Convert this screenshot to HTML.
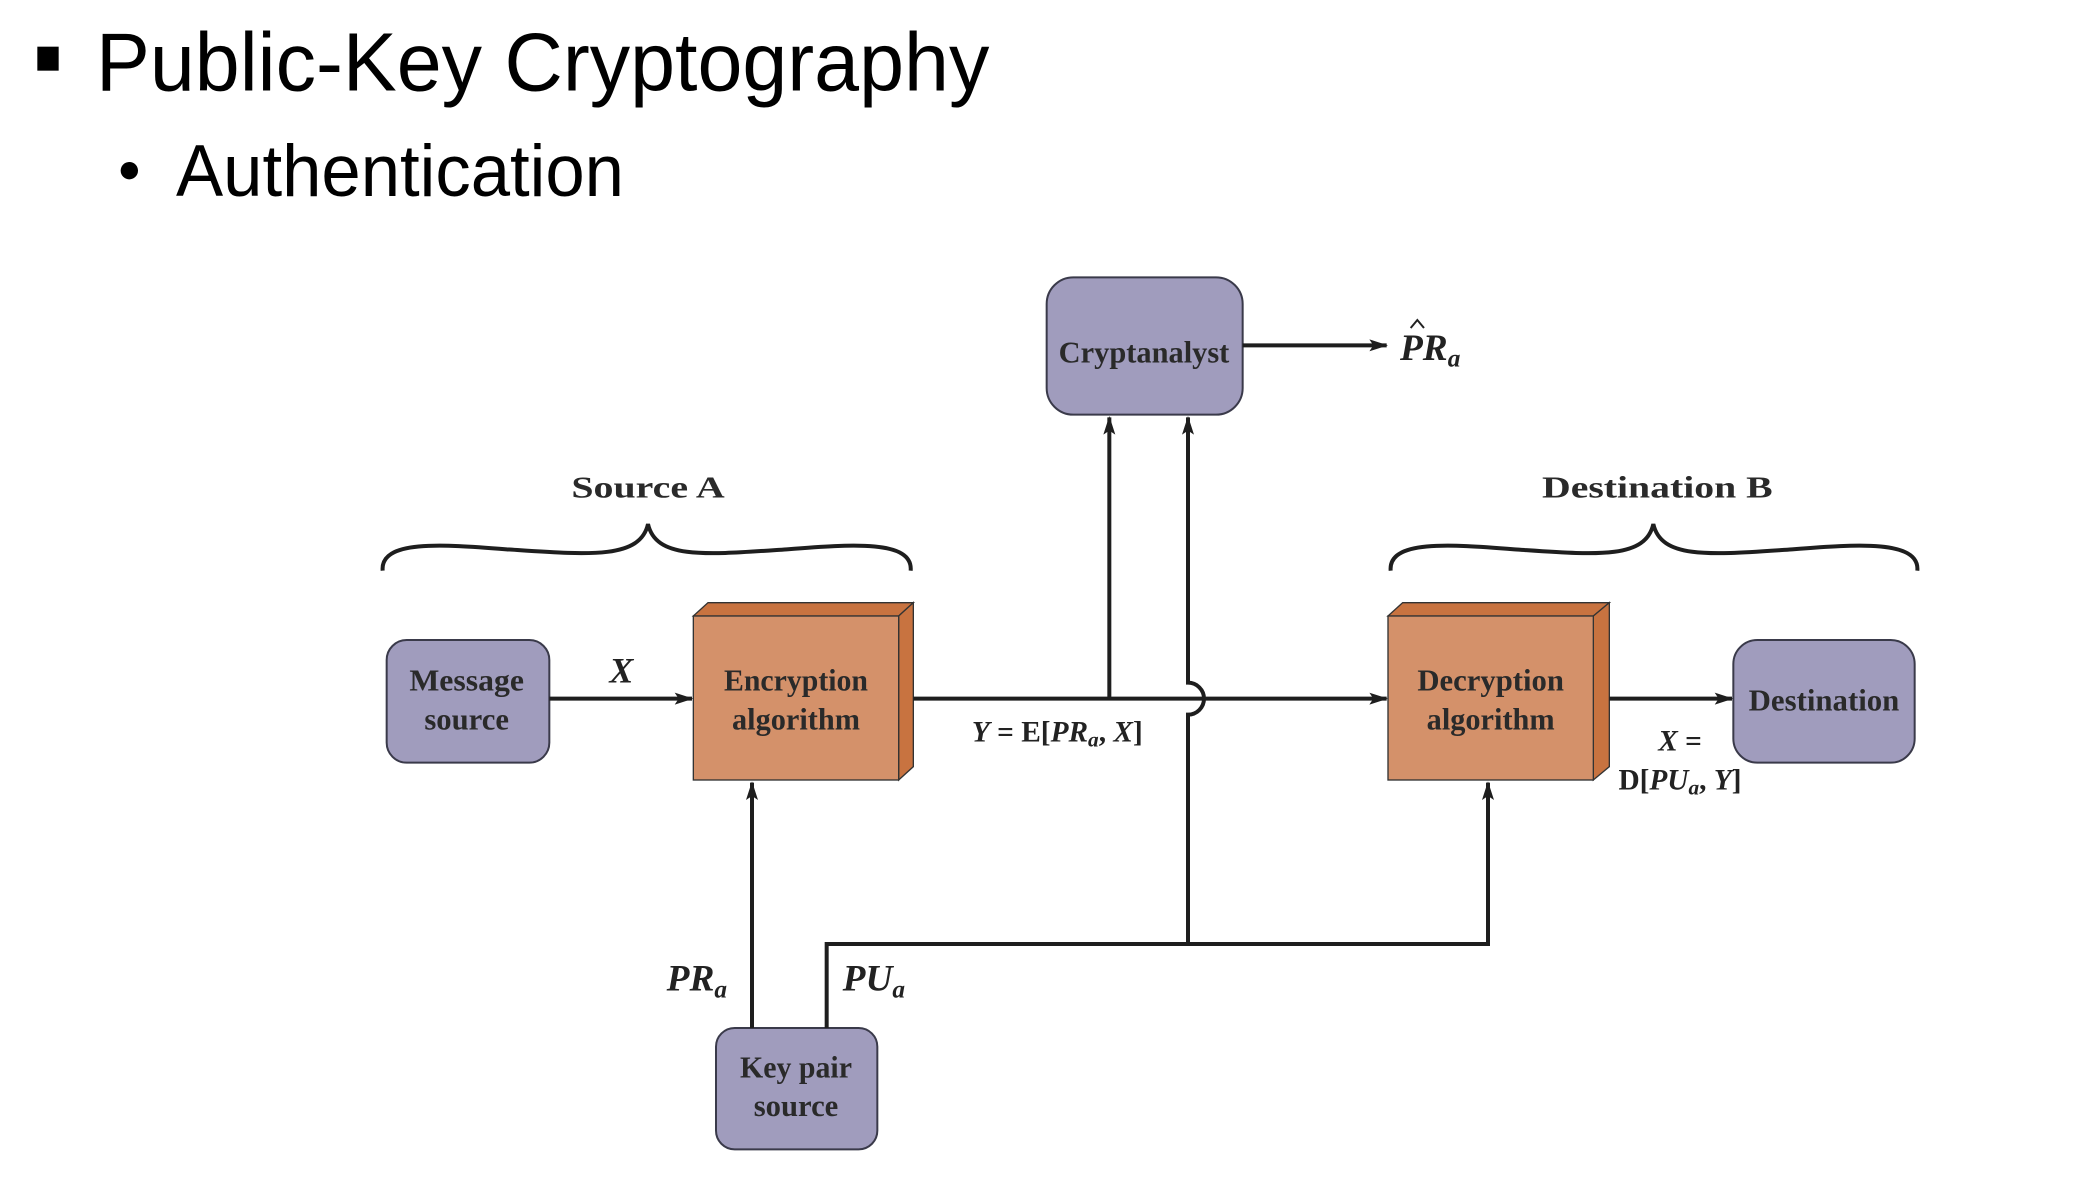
<!DOCTYPE html>
<html><head><meta charset="utf-8"><style>
html,body{margin:0;padding:0;background:#fff;}
svg{display:block}
.t{font-family:"Liberation Serif",serif;font-weight:bold;fill:#2a2a2a;font-size:23px;text-anchor:middle}
.i{font-family:"Liberation Serif",serif;font-style:italic;font-weight:bold;fill:#222;}
.l{stroke:#1e1e1e;stroke-width:3;fill:none}
</style></head><body>
<svg width="2090" height="1200" viewBox="0 0 1567.5 900" xmlns="http://www.w3.org/2000/svg">
<defs><marker id="a" markerWidth="14" markerHeight="9" refX="13" refY="4.5" orient="auto" markerUnits="userSpaceOnUse"><path d="M0,0 L14,4.5 L0,9 L3,4.5 z" fill="#1e1e1e"/></marker></defs>
<rect x="28" y="35" width="16" height="18" fill="#000"/>
<text x="72" y="68" font-family="Liberation Sans,sans-serif" font-size="62" textLength="670" lengthAdjust="spacingAndGlyphs" fill="#000">Public-Key Cryptography</text>
<circle cx="97" cy="128" r="6.5" fill="#000"/>
<text x="132" y="147" font-family="Liberation Sans,sans-serif" font-size="55" textLength="336" lengthAdjust="spacingAndGlyphs" fill="#000">Authentication</text>

<text class="t" x="486" y="373" font-size="26" textLength="115" lengthAdjust="spacingAndGlyphs">Source A</text>
<path class="l" stroke-width="2.5" d="M287,428 C285,405 330,408 380,412 C440,416 480,420 486,393 C492,420 530,416 590,412 C640,408 685,405 683,428"/>
<text class="t" x="1243" y="373" font-size="26" textLength="173" lengthAdjust="spacingAndGlyphs">Destination B</text>
<path class="l" stroke-width="2.5" d="M1043,428 C1041,405 1086,408 1136,412 C1196,416 1234,420 1240,393 C1246,420 1284,416 1344,412 C1394,408 1440,405 1438,428"/>

<rect x="290" y="480" width="122" height="92" rx="15" fill="#a09cbd" stroke="#3a3a4a" stroke-width="1.5"/>
<text class="t" x="350" y="518" textLength="86" lengthAdjust="spacingAndGlyphs">Message</text>
<text class="t" x="350" y="547">source</text>

<polygon points="520,462 531,452 685,452 674,462" fill="#c87340" stroke="#333" stroke-width="1"/>
<polygon points="674,462 685,452 685,575 674,585" fill="#c87340" stroke="#333" stroke-width="1"/>
<rect x="520" y="462" width="154" height="123" fill="#d4916a" stroke="#333" stroke-width="1"/>
<text class="t" x="597" y="518" textLength="108" lengthAdjust="spacingAndGlyphs">Encryption</text>
<text class="t" x="597" y="547" textLength="96" lengthAdjust="spacingAndGlyphs">algorithm</text>

<polygon points="1041,462 1052,452 1207,452 1195,462" fill="#c87340" stroke="#333" stroke-width="1"/>
<polygon points="1195,462 1207,452 1207,575 1195,585" fill="#c87340" stroke="#333" stroke-width="1"/>
<rect x="1041" y="462" width="154" height="123" fill="#d4916a" stroke="#333" stroke-width="1"/>
<text class="t" x="1118" y="518" textLength="110" lengthAdjust="spacingAndGlyphs">Decryption</text>
<text class="t" x="1118" y="547" textLength="96" lengthAdjust="spacingAndGlyphs">algorithm</text>

<rect x="785" y="208" width="147" height="103" rx="20" fill="#a09cbd" stroke="#3a3a4a" stroke-width="1.5"/>
<text class="t" x="858" y="272" textLength="128" lengthAdjust="spacingAndGlyphs">Cryptanalyst</text>

<rect x="1300" y="480" width="136" height="92" rx="18" fill="#a09cbd" stroke="#3a3a4a" stroke-width="1.5"/>
<text class="t" x="1368" y="533" textLength="113" lengthAdjust="spacingAndGlyphs">Destination</text>

<rect x="537" y="771" width="121" height="91" rx="14" fill="#a09cbd" stroke="#3a3a4a" stroke-width="1.5"/>
<text class="t" x="597" y="808" textLength="84" lengthAdjust="spacingAndGlyphs">Key pair</text>
<text class="t" x="597" y="837">source</text>

<line class="l" x1="412" y1="524" x2="519" y2="524" marker-end="url(#a)"/>
<text class="i" x="466" y="512" font-size="27" text-anchor="middle">X</text>
<line class="l" x1="685" y1="524" x2="1040" y2="524" marker-end="url(#a)"/>
<line class="l" x1="832" y1="524" x2="832" y2="313" marker-end="url(#a)"/>
<path class="l" d="M891,708 L891,536 A12,12 0 0 0 891,512 L891,313" marker-end="url(#a)"/>
<line class="l" x1="932" y1="259" x2="1040" y2="259" marker-end="url(#a)"/>
<text class="i" x="1050" y="270" font-size="28">PR<tspan font-size="19" dy="5">a</tspan></text>
<path d="M1058,246 L1063,240 L1068,246" stroke="#222" stroke-width="1.5" fill="none"/>
<line class="l" x1="1207" y1="524" x2="1299" y2="524" marker-end="url(#a)"/>

<text x="793" y="556" font-family="Liberation Serif,serif" font-weight="bold" font-size="22" fill="#222" text-anchor="middle"><tspan font-style="italic">Y</tspan> = E[<tspan font-style="italic">PR</tspan><tspan font-style="italic" font-size="16" dy="4">a</tspan><tspan dy="-4">, </tspan><tspan font-style="italic">X</tspan>]</text>
<text x="1260" y="563" font-family="Liberation Serif,serif" font-weight="bold" font-size="22" fill="#222" text-anchor="middle"><tspan font-style="italic">X</tspan> =</text>
<text x="1260" y="592" font-family="Liberation Serif,serif" font-weight="bold" font-size="22" fill="#222" text-anchor="middle">D[<tspan font-style="italic">PU</tspan><tspan font-style="italic" font-size="16" dy="4">a</tspan><tspan dy="-4">, </tspan><tspan font-style="italic">Y</tspan>]</text>

<line class="l" x1="564" y1="771" x2="564" y2="587" marker-end="url(#a)"/>
<path class="l" d="M620,771 L620,708 L1116,708 L1116,587" marker-end="url(#a)"/>
<text class="i" x="500" y="743" font-size="28">PR<tspan font-size="19" dy="5">a</tspan></text>
<text class="i" x="632" y="743" font-size="28">PU<tspan font-size="19" dy="5">a</tspan></text>
</svg>
</body></html>
